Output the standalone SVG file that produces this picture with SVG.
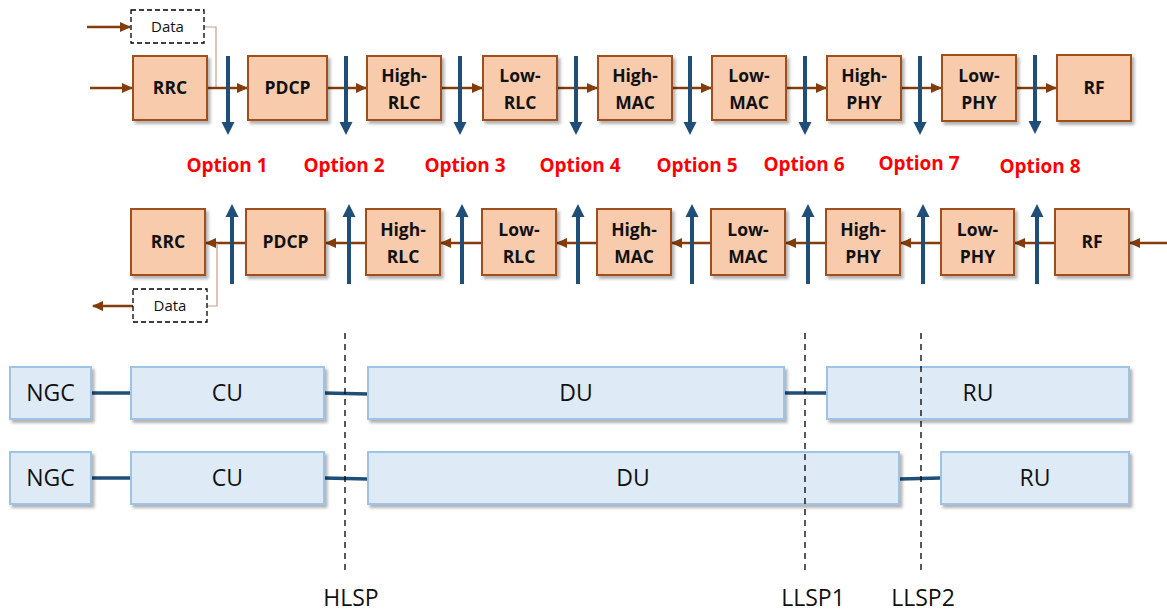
<svg xmlns="http://www.w3.org/2000/svg" width="1167" height="612" viewBox="0 0 1167 612">
<style>
.ob{fill:#F8CBAD;stroke:#A0501E;stroke-width:2}
.bb{fill:#DEEBF7;stroke:#9DC3E6;stroke-width:2}
.ot{font-family:"Open Sans","Liberation Sans",sans-serif;font-weight:bold;font-size:17.5px;fill:#111;text-anchor:middle}
.bt{font-family:"Open Sans","Liberation Sans",sans-serif;font-size:23px;fill:#111;text-anchor:middle}
.opt{font-family:"Open Sans","Liberation Sans",sans-serif;font-weight:bold;font-size:19px;fill:#FF0000;text-anchor:middle}
.lbl{font-family:"Open Sans","Liberation Sans",sans-serif;font-size:23px;fill:#111;text-anchor:middle}
.ba{stroke:#843C0C;stroke-width:2.5;fill:none}
.bl{stroke:#1F4E79;stroke-width:4;fill:none}
.cl{stroke:#1F4E79;stroke-width:3.5;fill:none}
.dash{stroke:#000;stroke-width:1.3;stroke-dasharray:6,5;fill:none}
.thin{stroke:#C8A085;stroke-width:1.2;fill:none}
.db{fill:#fff;stroke:#000;stroke-width:1.3;stroke-dasharray:5,3}
.dt{font-family:"Open Sans","Liberation Sans",sans-serif;font-size:15px;fill:#111;text-anchor:middle}
</style>
<defs>
<filter id="sh" x="-10%" y="-10%" width="130%" height="140%">
<feDropShadow dx="2.5" dy="3" stdDeviation="1.8" flood-color="#000" flood-opacity="0.3"/>
</filter>
<marker id="ah" markerUnits="userSpaceOnUse" markerWidth="12" markerHeight="10" refX="10" refY="5" orient="auto">
<path d="M0,0 L11,5 L0,10 z" fill="#843C0C"/>
</marker>
<marker id="bh" markerUnits="userSpaceOnUse" markerWidth="14" markerHeight="14" refX="2" refY="7" orient="auto">
<path d="M0,0.5 L13,7 L0,13.5 z" fill="#1F4E79"/>
</marker>
</defs>

<g id="connectors">
<line class="ba" x1="87" y1="27" x2="130" y2="27" marker-end="url(#ah)"/>
<line class="ba" x1="90" y1="88" x2="132" y2="88" marker-end="url(#ah)"/>
<polyline class="thin" points="204,27 216,27 216,88"/>
<line class="ba" x1="207" y1="88" x2="247" y2="88" marker-end="url(#ah)"/>
<line class="ba" x1="327" y1="88" x2="366" y2="88" marker-end="url(#ah)"/>
<line class="ba" x1="441" y1="88" x2="482" y2="88" marker-end="url(#ah)"/>
<line class="ba" x1="557" y1="88" x2="597" y2="88" marker-end="url(#ah)"/>
<line class="ba" x1="672" y1="88" x2="711" y2="88" marker-end="url(#ah)"/>
<line class="ba" x1="786" y1="88" x2="826" y2="88" marker-end="url(#ah)"/>
<line class="ba" x1="901" y1="88" x2="941" y2="88" marker-end="url(#ah)"/>
<line class="ba" x1="1016" y1="88" x2="1056" y2="88" marker-end="url(#ah)"/>
<line class="bl" x1="228" y1="56" x2="228" y2="124" marker-end="url(#bh)"/>
<line class="bl" x1="346" y1="56" x2="346" y2="124" marker-end="url(#bh)"/>
<line class="bl" x1="460" y1="56" x2="460" y2="124" marker-end="url(#bh)"/>
<line class="bl" x1="576" y1="56" x2="576" y2="124" marker-end="url(#bh)"/>
<line class="bl" x1="690" y1="56" x2="690" y2="124" marker-end="url(#bh)"/>
<line class="bl" x1="805" y1="56" x2="805" y2="124" marker-end="url(#bh)"/>
<line class="bl" x1="920" y1="56" x2="920" y2="124" marker-end="url(#bh)"/>
<line class="bl" x1="1035" y1="55" x2="1035" y2="123" marker-end="url(#bh)"/>
<line class="ba" x1="1167" y1="243" x2="1130" y2="243" marker-end="url(#ah)"/>
<line class="ba" x1="1055" y1="243" x2="1015" y2="243" marker-end="url(#ah)"/>
<line class="ba" x1="941" y1="243" x2="901" y2="243" marker-end="url(#ah)"/>
<line class="ba" x1="826" y1="243" x2="786" y2="243" marker-end="url(#ah)"/>
<line class="ba" x1="711" y1="243" x2="672" y2="243" marker-end="url(#ah)"/>
<line class="ba" x1="597" y1="243" x2="557" y2="243" marker-end="url(#ah)"/>
<line class="ba" x1="482" y1="243" x2="441" y2="243" marker-end="url(#ah)"/>
<line class="ba" x1="366" y1="243" x2="326" y2="243" marker-end="url(#ah)"/>
<line class="ba" x1="246" y1="243" x2="206" y2="243" marker-end="url(#ah)"/>
<polyline class="thin" points="207,306 217,306 217,243"/>
<line class="ba" x1="133" y1="306" x2="93" y2="306" marker-end="url(#ah)"/>
<line class="bl" x1="232" y1="284" x2="232" y2="215" marker-end="url(#bh)"/>
<line class="bl" x1="349" y1="284" x2="349" y2="215" marker-end="url(#bh)"/>
<line class="bl" x1="462" y1="284" x2="462" y2="215" marker-end="url(#bh)"/>
<line class="bl" x1="578" y1="284" x2="578" y2="215" marker-end="url(#bh)"/>
<line class="bl" x1="692" y1="284" x2="692" y2="215" marker-end="url(#bh)"/>
<line class="bl" x1="808" y1="284" x2="808" y2="215" marker-end="url(#bh)"/>
<line class="bl" x1="923" y1="284" x2="923" y2="215" marker-end="url(#bh)"/>
<line class="bl" x1="1037" y1="284" x2="1037" y2="215" marker-end="url(#bh)"/>
<line class="cl" x1="91" y1="393" x2="131" y2="393"/>
<line class="cl" x1="324" y1="393" x2="368" y2="394"/>
<line class="cl" x1="784" y1="393" x2="827" y2="393"/>
<line class="cl" x1="91" y1="478" x2="131" y2="478"/>
<line class="cl" x1="324" y1="478" x2="368" y2="479"/>
<line class="cl" x1="899" y1="479" x2="941" y2="478"/>
</g>

<g id="data-in"><rect class="db" x="131" y="10" width="73" height="33"/><text class="dt" x="167.5" y="32">Data</text></g>
<g id="data-out"><rect class="db" x="133" y="289" width="74" height="33"/><text class="dt" x="170" y="311">Data</text></g>

<g id="top-rrc"><rect class="ob" filter="url(#sh)" x="133" y="56" width="74" height="64"/><text class="ot" x="170" y="94">RRC</text></g>
<g id="top-pdcp"><rect class="ob" filter="url(#sh)" x="248" y="56" width="79" height="64"/><text class="ot" x="287.5" y="94">PDCP</text></g>
<g id="top-highrlc"><rect class="ob" filter="url(#sh)" x="367" y="56" width="74" height="64"/><text class="ot" x="404" y="82">High-</text><text class="ot" x="404" y="109">RLC</text></g>
<g id="top-lowrlc"><rect class="ob" filter="url(#sh)" x="483" y="56" width="74" height="64"/><text class="ot" x="520" y="82">Low-</text><text class="ot" x="520" y="109">RLC</text></g>
<g id="top-highmac"><rect class="ob" filter="url(#sh)" x="598" y="56" width="74" height="64"/><text class="ot" x="635" y="82">High-</text><text class="ot" x="635" y="109">MAC</text></g>
<g id="top-lowmac"><rect class="ob" filter="url(#sh)" x="712" y="56" width="74" height="64"/><text class="ot" x="749" y="82">Low-</text><text class="ot" x="749" y="109">MAC</text></g>
<g id="top-highphy"><rect class="ob" filter="url(#sh)" x="827" y="56" width="74" height="64"/><text class="ot" x="864" y="82">High-</text><text class="ot" x="864" y="109">PHY</text></g>
<g id="top-lowphy"><rect class="ob" filter="url(#sh)" x="942" y="55" width="74" height="66"/><text class="ot" x="979" y="82">Low-</text><text class="ot" x="979" y="109">PHY</text></g>
<g id="top-rf"><rect class="ob" filter="url(#sh)" x="1057" y="55" width="74" height="66"/><text class="ot" x="1094" y="94">RF</text></g>

<g id="bot-rrc"><rect class="ob" filter="url(#sh)" x="131" y="209" width="74" height="66"/><text class="ot" x="168" y="248">RRC</text></g>
<g id="bot-pdcp"><rect class="ob" filter="url(#sh)" x="246" y="209" width="79" height="66"/><text class="ot" x="285.5" y="248">PDCP</text></g>
<g id="bot-highrlc"><rect class="ob" filter="url(#sh)" x="366" y="209" width="74" height="66"/><text class="ot" x="403" y="236">High-</text><text class="ot" x="403" y="263">RLC</text></g>
<g id="bot-lowrlc"><rect class="ob" filter="url(#sh)" x="482" y="209" width="74" height="66"/><text class="ot" x="519" y="236">Low-</text><text class="ot" x="519" y="263">RLC</text></g>
<g id="bot-highmac"><rect class="ob" filter="url(#sh)" x="597" y="209" width="74" height="66"/><text class="ot" x="634" y="236">High-</text><text class="ot" x="634" y="263">MAC</text></g>
<g id="bot-lowmac"><rect class="ob" filter="url(#sh)" x="711" y="209" width="74" height="66"/><text class="ot" x="748" y="236">Low-</text><text class="ot" x="748" y="263">MAC</text></g>
<g id="bot-highphy"><rect class="ob" filter="url(#sh)" x="826" y="209" width="74" height="66"/><text class="ot" x="863" y="236">High-</text><text class="ot" x="863" y="263">PHY</text></g>
<g id="bot-lowphy"><rect class="ob" filter="url(#sh)" x="941" y="209" width="73" height="66"/><text class="ot" x="977.5" y="236">Low-</text><text class="ot" x="977.5" y="263">PHY</text></g>
<g id="bot-rf"><rect class="ob" filter="url(#sh)" x="1055" y="209" width="74" height="66"/><text class="ot" x="1092" y="248">RF</text></g>

<g id="options">
<text class="opt" x="227" y="172">Option 1</text>
<text class="opt" x="344" y="172">Option 2</text>
<text class="opt" x="465" y="172">Option 3</text>
<text class="opt" x="580" y="172">Option 4</text>
<text class="opt" x="697" y="172">Option 5</text>
<text class="opt" x="804" y="171">Option 6</text>
<text class="opt" x="919" y="170">Option 7</text>
<text class="opt" x="1040" y="173">Option 8</text>
</g>

<g id="ngc1"><rect class="bb" filter="url(#sh)" x="10" y="367" width="81" height="52"/><text class="bt" x="50.5" y="401">NGC</text></g>
<g id="cu1"><rect class="bb" filter="url(#sh)" x="131" y="367" width="193" height="52"/><text class="bt" x="227.5" y="401">CU</text></g>
<g id="du1"><rect class="bb" filter="url(#sh)" x="368" y="367" width="416" height="52"/><text class="bt" x="576" y="401">DU</text></g>
<g id="ru1"><rect class="bb" filter="url(#sh)" x="827" y="367" width="302" height="52"/><text class="bt" x="978" y="401">RU</text></g>
<g id="ngc2"><rect class="bb" filter="url(#sh)" x="10" y="452" width="81" height="52"/><text class="bt" x="50.5" y="486">NGC</text></g>
<g id="cu2"><rect class="bb" filter="url(#sh)" x="131" y="452" width="193" height="52"/><text class="bt" x="227.5" y="486">CU</text></g>
<g id="du2"><rect class="bb" filter="url(#sh)" x="368" y="452" width="531" height="52"/><text class="bt" x="633" y="486">DU</text></g>
<g id="ru2"><rect class="bb" filter="url(#sh)" x="941" y="452" width="188" height="52"/><text class="bt" x="1035" y="486">RU</text></g>

<g id="splits">
<line class="dash" x1="345" y1="333" x2="345" y2="570"/>
<line class="dash" x1="805" y1="333" x2="805" y2="570"/>
<line class="dash" x1="921" y1="333" x2="921" y2="570"/>
<text class="lbl" x="351" y="606">HLSP</text>
<text class="lbl" x="813" y="606">LLSP1</text>
<text class="lbl" x="923" y="606">LLSP2</text>
</g>
</svg>
